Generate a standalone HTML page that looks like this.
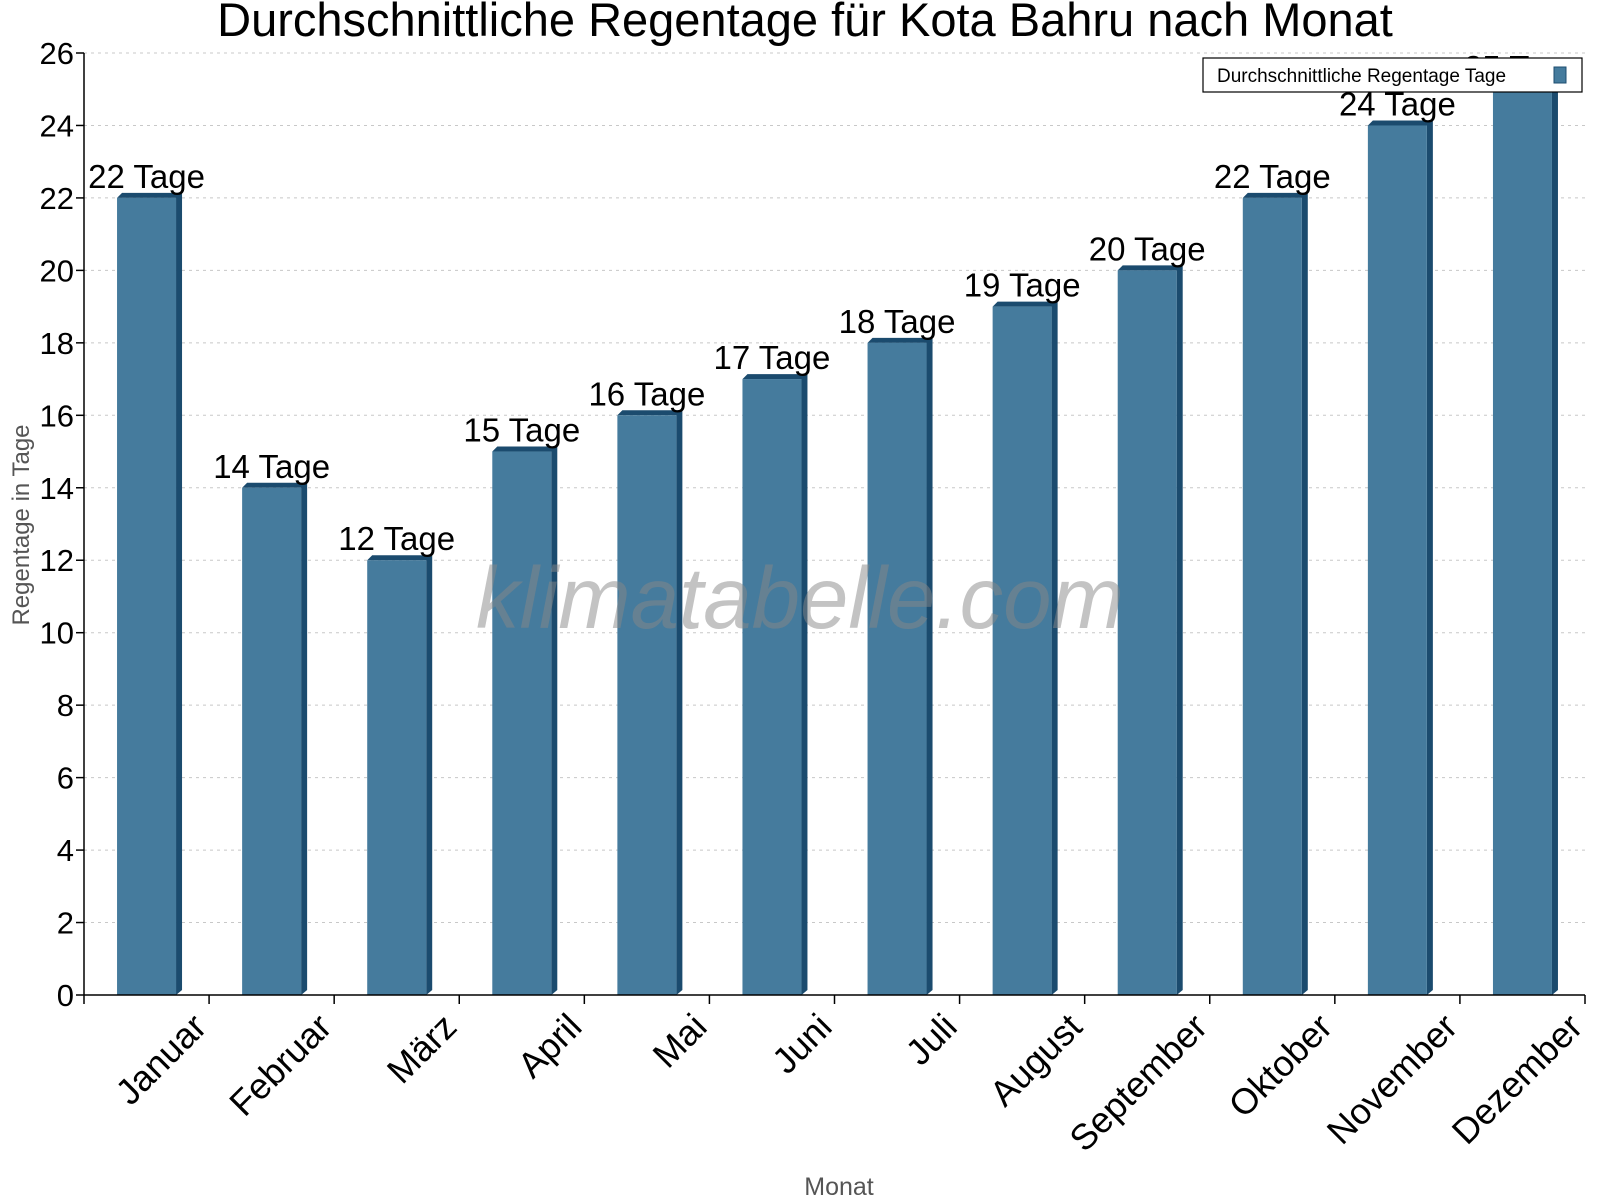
<!DOCTYPE html><html><head><meta charset="utf-8"><style>body{margin:0;background:#fff}svg{display:block}text{font-family:"Liberation Sans",sans-serif}</style></head><body>
<svg width="1600" height="1200" xmlns="http://www.w3.org/2000/svg">
<text x="805" y="36" font-size="47" text-anchor="middle">Durchschnittliche Regentage für Kota Bahru nach Monat</text>
<g id="grid" stroke="#c8c8c8" stroke-dasharray="3,4" stroke-width="1"></g>
<g id="bars"></g>
<text x="800" y="628" font-size="87" font-style="italic" fill="#888" fill-opacity="0.5" text-anchor="middle">klimatabelle.com</text>
<g id="axes" stroke="#000" stroke-width="1.5"></g>
<g id="lbl"></g>
<text transform="translate(29,525) rotate(-90)" font-size="24" fill="#555" text-anchor="middle">Regentage in Tage</text>
<text x="839" y="1195" font-size="25" fill="#555" text-anchor="middle">Monat</text>
<rect x="1203" y="58" width="379" height="34" fill="#fff" stroke="#000" stroke-width="1.2"/>
<text x="1217" y="82" font-size="19">Durchschnittliche Regentage Tage</text>
<rect x="1554" y="67" width="12" height="16" fill="#457b9d" stroke="#1d4e70"/>
<script>
const ns="http://www.w3.org/2000/svg";
const L=84,R=1585,B=995,U=(995-53)/26,W=(R-L)/12;
const vals=[22,14,12,15,16,17,18,19,20,22,24,25];
const mon=["Januar","Februar","März","April","Mai","Juni","Juli","August","September","Oktober","November","Dezember"];
function el(p,t,a,txt){const e=document.createElementNS(ns,t);for(const k in a)e.setAttribute(k,a[k]);if(txt!==undefined)e.textContent=String(txt);document.getElementById(p).appendChild(e);return e;}
for(let v=2;v<=26;v+=2){const y=B-v*U;el("grid","line",{x1:L,x2:R,y1:y,y2:y});}
vals.forEach((v,i)=>{const c=L+W*(i+0.5),y=B-v*U,x0=c-29.5,x1=c+29.5;
el("bars","polygon",{points:`${x0},${y} ${x0+5},${y-5} ${x1+6},${y-5} ${x1+6},${B-5} ${x1},${B} ${x1},${y}`,fill:"#1b4b6e"});
el("bars","rect",{x:x0,y:y,width:59,height:B-y,fill:"#457b9d"});
el("lbl","text",{x:c,y:y-10,"font-size":33,"text-anchor":"middle"},v+" Tage");
el("lbl","text",{transform:`translate(${c+62},${B+34}) rotate(-45)`,"font-size":36,"text-anchor":"end"},mon[i]);
});
el("axes","line",{x1:L,x2:L,y1:53,y2:B});el("axes","line",{x1:L,x2:R,y1:B,y2:B});
for(let v=0;v<=26;v+=2){const y=B-v*U;el("axes","line",{x1:L-8,x2:L,y1:y,y2:y});el("lbl","text",{x:L-10,y:y+11,"font-size":31,"text-anchor":"end"},v);}
for(let i=0;i<=12;i++){const x=L+W*i;el("axes","line",{x1:x,x2:x,y1:B,y2:B+9});}
</script>
</svg></body></html>
